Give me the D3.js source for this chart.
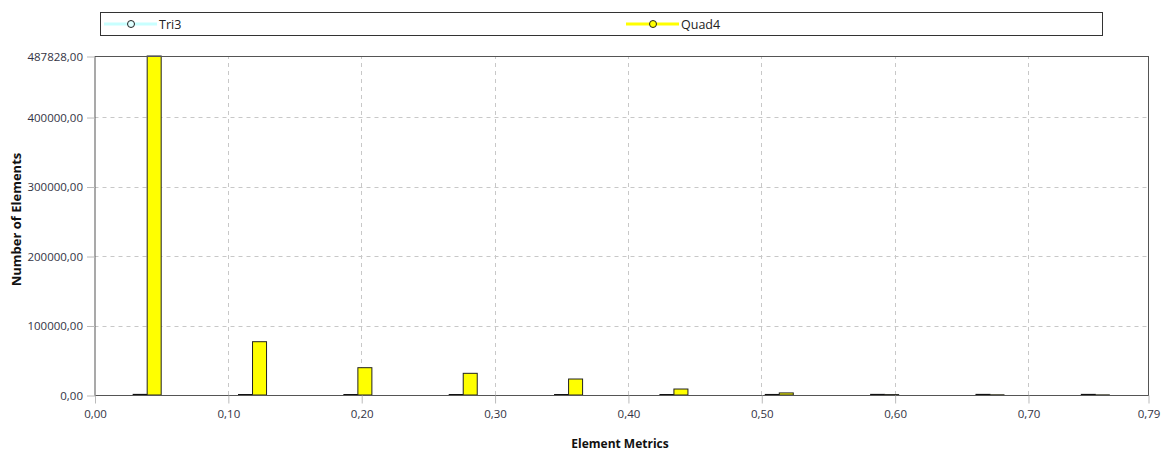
<!DOCTYPE html>
<html>
<head>
<meta charset="utf-8">
<script src="https://cdn.jsdelivr.net/npm/d3@7"></script>
<style>
  body { margin: 0; background: #fff; }
  text { font-family: 'Open Sans', sans-serif; }
</style>
</head>
<body>
<svg id="chart" width="1170" height="453"></svg>
<script>
// bins of the element metric histogram (10 equal bins over 0..0.79)
const binStarts = [0, 0.079, 0.158, 0.237, 0.316, 0.395, 0.474, 0.553, 0.632, 0.711];
const binWidth = 0.079;
const tri3Values = [900, 700, 700, 700, 700, 700, 800, 900, 900, 900];
const quad4Values = [487828, 76700, 39300, 31200, 23000, 8600, 3000, 600, 300, 200];
const yTicks = [0, 100000, 200000, 300000, 400000, 487828];
const xTicks = [0, 0.1, 0.2, 0.3, 0.4, 0.5, 0.6, 0.7, 0.79];
const seriesNames = ['Tri3', 'Quad4'];

const width = 1170, height = 453;
const margin = { top: 56, right: 22, bottom: 58, left: 94.5 };
const svg = d3.select('#chart');

const x = d3.scaleLinear().domain([0, 0.79]).range([margin.left, width - margin.right]);
const y = d3.scaleLinear().domain([0, 487828]).range([height - margin.bottom, margin.top]);

const fmt = v => d3.format('.2f')(v).replace('.', ',');

// grid
const grid = svg.append('g').attr('class', 'grid');
grid.selectAll('.hgrid')
  .data(yTicks.slice(1, -1))
  .join('line')
  .attr('x1', x(0)).attr('x2', x(0.79))
  .attr('y1', d => Math.round(y(d)) + 0.5).attr('y2', d => Math.round(y(d)) + 0.5)
  .attr('stroke', '#c8c8c8').attr('stroke-dasharray', '4,4');
grid.selectAll('.vgrid')
  .data(xTicks.slice(1, -1))
  .join('line')
  .attr('y1', y(0)).attr('y2', y(487828))
  .attr('x1', d => Math.round(x(d)) + 0.5).attr('x2', d => Math.round(x(d)) + 0.5)
  .attr('stroke', '#c8c8c8').attr('stroke-dasharray', '4,4');

// bars
const barW = x(binWidth * 0.133) - x(0);
const bars = svg.append('g');
bars.selectAll('.tri3')
  .data(binStarts)
  .join('rect')
  .attr('x', (d, i) => x(d + binWidth / 2) - barW)
  .attr('y', (d, i) => y(tri3Values[i]))
  .attr('width', barW)
  .attr('height', (d, i) => y(0) - y(tri3Values[i]))
  .attr('fill', '#e0ffff')
  .attr('stroke', '#111').attr('stroke-width', 1);
bars.selectAll('.quad4')
  .data(binStarts)
  .join('rect')
  .attr('x', (d, i) => x(d + binWidth / 2))
  .attr('y', (d, i) => y(quad4Values[i]))
  .attr('width', barW)
  .attr('height', (d, i) => y(0) - y(quad4Values[i]))
  .attr('fill', '#ffff00')
  .attr('stroke', '#222').attr('stroke-width', 1);

// frame
svg.append('rect')
  .attr('x', x(0) + 0.5).attr('y', y(487828) + 0.5)
  .attr('width', x(0.79) - x(0)).attr('height', y(0) - y(487828))
  .attr('fill', 'none').attr('stroke', '#555');

// axes
const yAxis = svg.append('g')
  .attr('transform', `translate(${x(0) + 0.5},0.5)`)
  .call(d3.axisLeft(y).tickValues(yTicks).tickFormat(fmt).tickSize(8).tickPadding(4));
const xAxis = svg.append('g')
  .attr('transform', `translate(0.5,${y(0) + 0.5})`)
  .call(d3.axisBottom(x).tickValues(xTicks).tickFormat(fmt).tickSize(8).tickPadding(6));
[yAxis, xAxis].forEach(a => {
  a.select('.domain').remove();
  a.selectAll('.tick line').attr('stroke', '#bbb');
  a.selectAll('.tick text').attr('fill', '#333344').style('font-size', '11.5px')
    .style('font-family', "'Open Sans', sans-serif");
});

// axis titles
svg.append('text')
  .attr('transform', `translate(21,${(y(0) + y(487828)) / 2 - 6}) rotate(-90)`)
  .attr('text-anchor', 'middle')
  .style('font-size', '13px').style('font-weight', 'bold').attr('fill', '#111')
  .text('Number of Elements');
svg.append('text')
  .attr('x', 620).attr('y', 448)
  .attr('text-anchor', 'middle')
  .style('font-size', '12px').style('font-weight', 'bold').attr('fill', '#111')
  .text('Element Metrics');

// legend
const legend = svg.append('g');
legend.append('rect')
  .attr('x', 100.5).attr('y', 12.5).attr('width', 1002).attr('height', 23)
  .attr('fill', '#fff').attr('stroke', '#333');
const legendItems = [
  { name: seriesNames[0], x0: 104, color: '#c8ffff', marker: '#e0ffff' },
  { name: seriesNames[1], x0: 626, color: '#ffff00', marker: '#ffff00' }
];
legendItems.forEach(it => {
  const g = legend.append('g');
  g.append('line').attr('x1', it.x0).attr('x2', it.x0 + 53).attr('y1', 24).attr('y2', 24)
    .attr('stroke', it.color).attr('stroke-width', 3);
  g.append('circle').attr('cx', it.x0 + 27).attr('cy', 24).attr('r', 3.5)
    .attr('fill', it.marker).attr('stroke', '#222').attr('stroke-width', 1);
  g.append('text').attr('x', it.x0 + 55).attr('y', 28.5)
    .style('font-size', '12.5px').attr('fill', '#222').text(it.name);
});
</script>
</body>
</html>
